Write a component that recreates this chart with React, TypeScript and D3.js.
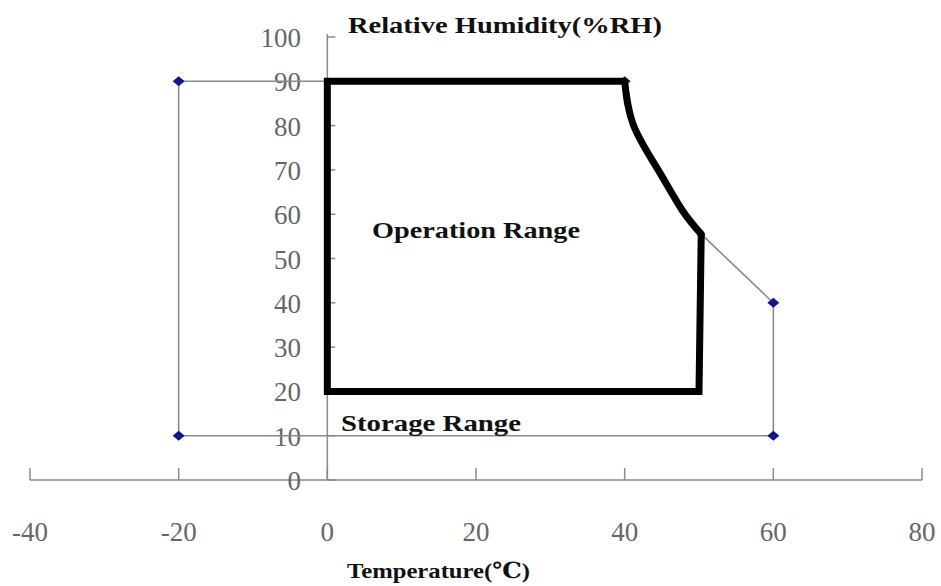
import React from "react";
import * as d3 from "d3";

const xTicks = [-40, -20, 0, 20, 40, 60, 80];
const yTicks = [0, 10, 20, 30, 40, 50, 60, 70, 80, 90, 100];

// Storage range outline (thin line with markers)
const storageT = [40, -20, -20, 60, 60, 50.3];
const storageH = [90, 90, 10, 10, 40, 55.5];
const storageMarkerIdx = [0, 1, 2, 3, 4];

// Operation range: straight edges + curved upper-right edge
const opCurveT = [40, 41.2, 44.5, 47.7, 50.3];
const opCurveH = [90, 80, 70, 61, 55.5];
const opRestT = [50.3, 50, 0, 0, 40];
const opRestH = [55.5, 20, 20, 90, 90];

const W = 941;
const H = 586;

export default function App() {
  const x = d3.scaleLinear().domain([-40, 80]).range([30, 922]);
  const y = d3.scaleLinear().domain([0, 100]).range([480, 37]);
  const line = d3.line<[number, number]>().x((d) => x(d[0])).y((d) => y(d[1]));
  const curve = d3
    .line<[number, number]>()
    .x((d) => x(d[0]))
    .y((d) => y(d[1]))
    .curve(d3.curveNatural);

  const storagePts: [number, number][] = storageT.map((t, i) => [t, storageH[i]]);
  const curvePts: [number, number][] = opCurveT.map((t, i) => [t, opCurveH[i]]);
  const restPts: [number, number][] = opRestT.map((t, i) => [t, opRestH[i]]);

  const axisColor = "#8a8a8a";
  const labelColor = "#666";
  const font = "'Liberation Serif', 'DejaVu Serif', serif";
  const diamond = (cx: number, cy: number) =>
    `M${cx - 6},${cy} L${cx},${cy - 5} L${cx + 6},${cy} L${cx},${cy + 5} Z`;

  return (
    <svg
      width={W}
      height={H}
      style={{ position: "absolute", left: 0, top: 0, background: "#fff" }}
      fontFamily={font}
    >
      {/* x axis */}
      <line x1={x(-40)} x2={x(80)} y1={y(0)} y2={y(0)} stroke={axisColor} strokeWidth={1.5} />
      {xTicks.map((t) => (
        <g key={"xt" + t}>
          <line x1={x(t)} x2={x(t)} y1={y(0)} y2={y(0) - 12} stroke={axisColor} strokeWidth={1.5} />
          <text x={x(t)} y={541} textAnchor="middle" fontSize={27} fill={labelColor}>
            {t}
          </text>
        </g>
      ))}

      {/* y axis */}
      <line x1={x(0)} x2={x(0)} y1={y(100) - 3} y2={y(0)} stroke={axisColor} strokeWidth={1.5} />
      {yTicks.map((h) => (
        <g key={"yt" + h}>
          <line x1={x(0)} x2={x(0) + 8} y1={y(h)} y2={y(h)} stroke={axisColor} strokeWidth={1.5} />
          <text x={301} y={y(h) + 10} textAnchor="end" fontSize={27} fill={labelColor}>
            {h}
          </text>
        </g>
      ))}

      {/* storage range */}
      <path d={line(storagePts) || ""} fill="none" stroke={axisColor} strokeWidth={1.6} />
      {storageMarkerIdx.map((i) => (
        <path key={"m" + i} d={diamond(x(storageT[i]), y(storageH[i]))} fill="#14148a" />
      ))}

      {/* operation range */}
      <path d={line(restPts) || ""} fill="none" stroke="#000" strokeWidth={7} strokeLinejoin="miter" />
      <path d={curve(curvePts) || ""} fill="none" stroke="#000" strokeWidth={7} strokeLinecap="round" />

      {/* labels */}
      <text x={348} y={33} fontSize={23} fontWeight="bold" fill="#111" textLength={314} lengthAdjust="spacingAndGlyphs">
        Relative Humidity(%RH)
      </text>
      <text x={372} y={238} fontSize={23} fontWeight="bold" fill="#111" textLength={208} lengthAdjust="spacingAndGlyphs">
        Operation Range
      </text>
      <text x={341} y={431} fontSize={23} fontWeight="bold" fill="#111" textLength={180} lengthAdjust="spacingAndGlyphs">
        Storage Range
      </text>
      <text x={347} y={578} fontSize={22} fontWeight="bold" fill="#111" textLength={183} lengthAdjust="spacingAndGlyphs">
        Temperature(℃)
      </text>
    </svg>
  );
}
